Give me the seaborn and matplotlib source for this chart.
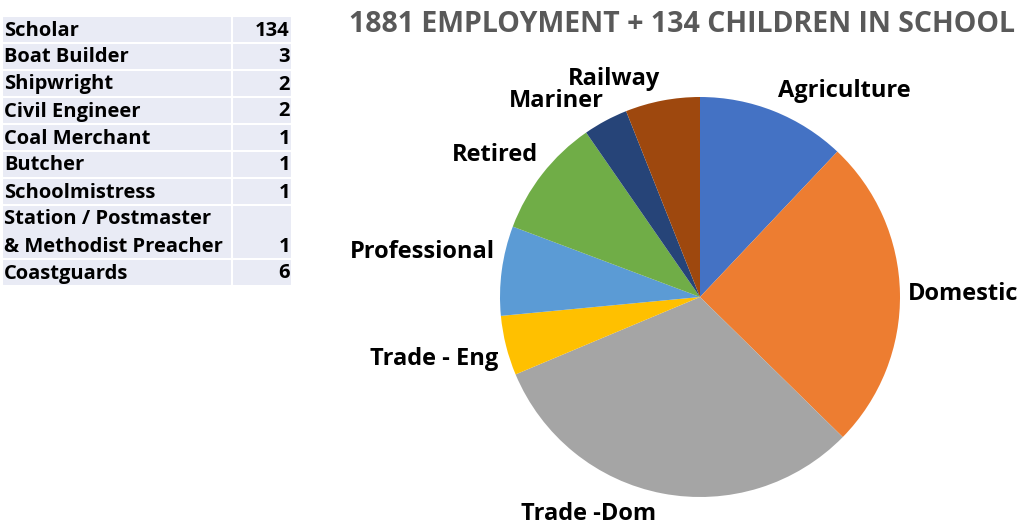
import matplotlib
matplotlib.use('Agg')
import matplotlib.pyplot as plt
import seaborn as sns

sns.set_theme(style='white')
plt.rcParams['font.family'] = ['Open Sans', 'DejaVu Sans']

# pie data (1881 employment)
sectors = ['Agriculture', 'Domestic', 'Trade -Dom', 'Trade - Eng',
           'Professional', 'Retired', 'Mariner', 'Railway']
counts = [10, 21, 26, 4, 6, 8, 3, 5]

# table data
occupations = ['Scholar', 'Boat Builder', 'Shipwright', 'Civil Engineer',
               'Coal Merchant', 'Butcher', 'Schoolmistress',
               'Station / Postmaster\n& Methodist Preacher', 'Coastguards']
occ_counts = [134, 3, 2, 2, 1, 1, 1, 1, 6]

title = '1881 EMPLOYMENT + 134 CHILDREN IN SCHOOL'

colors = ['#4472C4', '#ED7D31', '#A5A5A5', '#FFC000',
          '#5B9BD5', '#70AD47', '#264478', '#9E480E']

W, H = 1024, 526
fig = plt.figure(figsize=(W / 100, H / 100), dpi=100)
fig.patch.set_facecolor('white')

# pie axes: centre at pixel (700, 297), radius 200 px
cx, cy, R = 700, 297, 200
left_px, right_px, top_px, bot_px = 380, 1020, 47, 526
ax = fig.add_axes([left_px / W, (H - bot_px) / H,
                   (right_px - left_px) / W, (bot_px - top_px) / H])
wedges, _ = ax.pie(counts, colors=colors, startangle=90, counterclock=False,
                   wedgeprops=dict(linewidth=0))
ax.set_xlim((left_px - cx) / R, (right_px - cx) / R)
ax.set_ylim((cy - bot_px) / R, (cy - top_px) / R)
ax.set_aspect('auto')
ax.axis('off')

# label placement (x, y, ha) in radius units
label_pos = {
    'Agriculture': (0.39, 1.03, 'left'),
    'Domestic': (1.04, 0.015, 'left'),
    'Trade -Dom': (-0.555, -1.085, 'center'),
    'Trade - Eng': (-1.01, -0.31, 'right'),
    'Professional': (-1.025, 0.225, 'right'),
    'Retired': (-0.81, 0.71, 'right'),
    'Mariner': (-0.48, 0.98, 'right'),
    'Railway': (-0.43, 1.09, 'center'),
}
for name in sectors:
    x, y, ha = label_pos[name]
    ax.text(x, y, name, ha=ha, va='center', fontsize=17,
            fontweight='bold', color='#000000')

fig.text(349 / W, 1 - 25 / H, title, ha='left', va='center',
         fontsize=20.5, fontweight='bold', color='#595959')

# table on the left, drawn in pixel coordinates
tax = fig.add_axes([0, 0, 1, 1])
tax.set_xlim(0, W)
tax.set_ylim(H, 0)
tax.axis('off')
tax.patch.set_alpha(0)

row_h = 27
t_left, t_div, t_right, t_top = 2, 232, 292, 16
y = t_top
for occ, n in zip(occupations, occ_counts):
    h = row_h * (2 if '\n' in occ else 1)
    for x0, x1 in [(t_left, t_div), (t_div, t_right)]:
        tax.add_patch(plt.Rectangle((x0, y), x1 - x0, h, facecolor='#E9EBF5',
                                    edgecolor='white', linewidth=1.5))
    lines = occ.split('\n')
    for i, line in enumerate(lines):
        tax.text(t_left + 2, y + row_h * (i + 0.5) + 1, line, ha='left',
                 va='center', fontsize=14.5, fontweight='bold', color='black')
    tax.text(t_right - 2, y + h - row_h / 2 + 1, str(n), ha='right',
             va='center', fontsize=14.5, fontweight='bold', color='black')
    y += h

fig.savefig('out.png', dpi=100, facecolor='white')
